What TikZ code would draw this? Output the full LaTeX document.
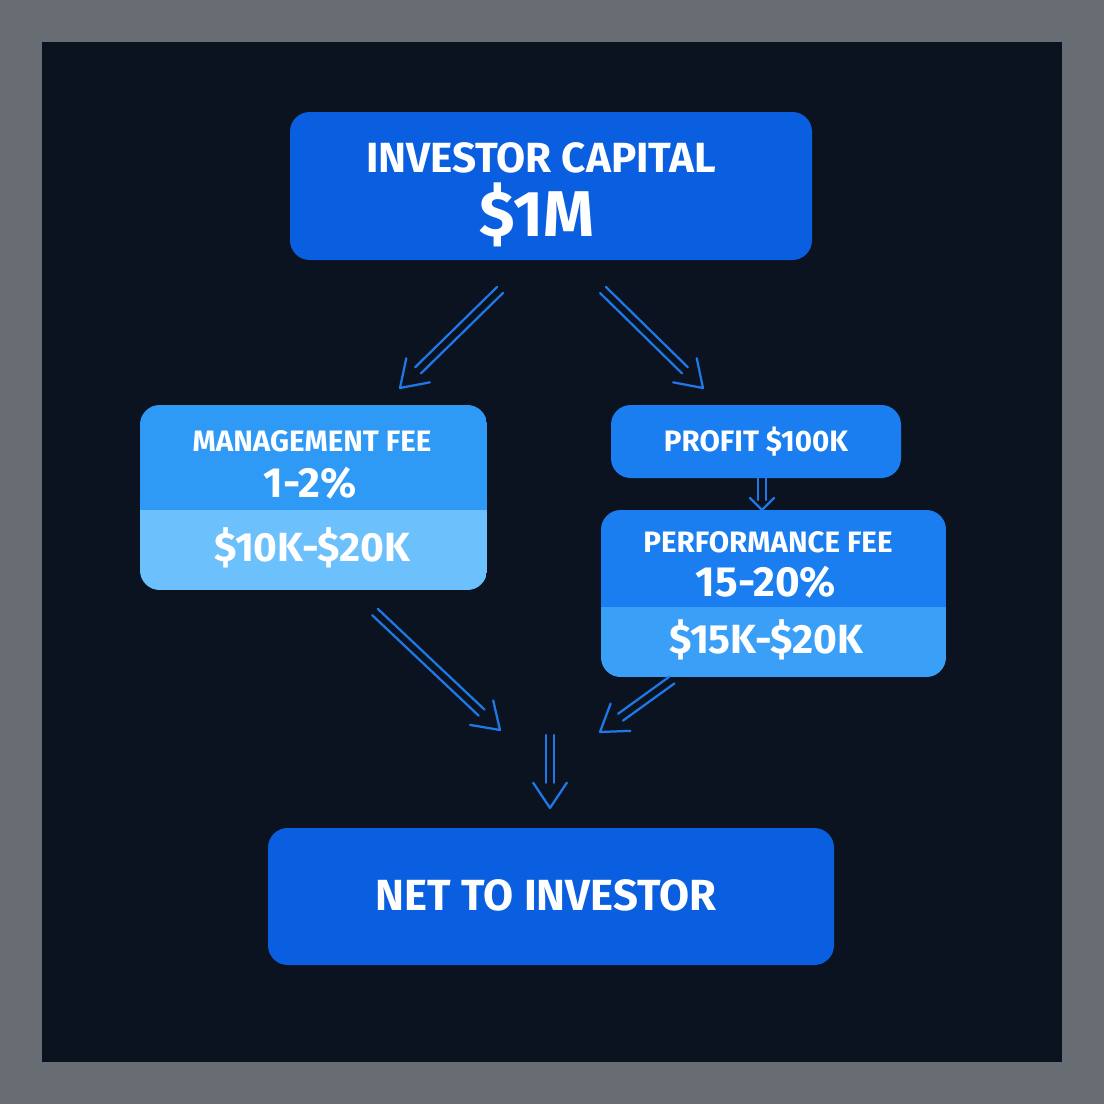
\documentclass[tikz,border=0pt]{standalone}
\usepackage{fontspec}
\setmainfont{Fira Sans}
\usetikzlibrary{calc}
\definecolor{frame}{HTML}{686C73}
\definecolor{night}{HTML}{0B1320}
\definecolor{deep}{HTML}{0A5EE0}
\definecolor{mid}{HTML}{1A7EF0}
\definecolor{sky}{HTML}{2F9AF5}
\definecolor{pale}{HTML}{6CC0FB}
\definecolor{lite}{HTML}{3AA0F7}
\definecolor{wire}{HTML}{1E78E8}
\newcommand{\fs}[1]{\fontsize{#1}{1.15\dimexpr#1\relax}\selectfont\bfseries}
% hollow double-line arrow between two named points
\newcommand{\hollow}[2]{%
  \coordinate (h) at ($(#2)!18pt!(#1)$);
  \draw[flow] ($(#1)!3pt!90:(#2)$) -- ($(h)!3pt!-90:(#1)$);
  \draw[flow] ($(#1)!3pt!-90:(#2)$) -- ($(h)!3pt!90:(#1)$);
  \draw[flow] ($(h)!12pt!-90:(#1)$) -- (#2) -- ($(h)!12pt!90:(#1)$);}
\begin{document}
\begin{tikzpicture}[x=0.025cm,y=-0.025cm,
  box/.style={rounded corners=14pt},
  flow/.style={wire,line width=1.6pt,line join=round,line cap=round},
  txt/.style={white,inner sep=0pt}]
\fill[frame] (0,0) rectangle (1104,1104);
\fill[night] (42,42) rectangle (1062,1062);
% boxes
\fill[deep,box] (290,112) rectangle (812,260);
\node[txt] (capa) at (541,158) {\fs{30pt}INVESTOR CAPITAL};
\node[txt] (capb) at (537,215) {\fs{46pt}\$1M};
\begin{scope}
  \clip[box] (140,405) rectangle (487,590);
  \fill[sky] (140,405) rectangle (487,510);
  \fill[pale] (140,510) rectangle (487,590);
\end{scope}
\node[txt] (mgma) at (312,441) {\fs{21pt}MANAGEMENT FEE};
\node[txt] (mgmb) at (310,483) {\fs{30pt}1-2\%};
\node[txt] (mgmc) at (312,548) {\fs{29pt}\$10K-\$20K};
\fill[mid,box] (611,405) rectangle (901,478);
\node[txt] (prof) at (756,442) {\fs{21pt}PROFIT \$100K};
\begin{scope}
  \clip[box] (601,510) rectangle (946,677);
  \fill[mid] (601,510) rectangle (946,607);
  \fill[lite] (601,607) rectangle (946,677);
\end{scope}
\node[txt] (perfa) at (768,542) {\fs{21pt}PERFORMANCE FEE};
\node[txt] (perfb) at (766,582) {\fs{30pt}15-20\%};
\node[txt] (perfc) at (766,640) {\fs{29pt}\$15K-\$20K};
\fill[deep,box] (268,828) rectangle (834,965);
\node[txt] (net) at (546,895) {\fs{31pt}NET TO INVESTOR};
% arrows
\coordinate (a1) at (500,290); \coordinate (b1) at (400,388);
\coordinate (a2) at (603,290); \coordinate (b2) at (703,388);
\coordinate (a3) at (762,478); \coordinate (b3) at (762,510);
\coordinate (a4) at (375,612); \coordinate (b4) at (500,730);
\coordinate (a5) at (672,680); \coordinate (b5) at (600,732);
\coordinate (a6) at (550,735); \coordinate (b6) at (550,808);
\hollow{a1}{b1}
\hollow{a2}{b2}
\hollow{a4}{b4}
\hollow{a5}{b5}
\hollow{a6}{b6}
\draw[flow] ($(a3)+(-4,0)$) -- ($(b3)+(-4,-10)$);
\draw[flow] ($(a3)+(4,0)$) -- ($(b3)+(4,-10)$);
\draw[flow] ($(b3)+(-12,-12)$) -- (b3) -- ($(b3)+(12,-12)$);
\end{tikzpicture}
\end{document}
